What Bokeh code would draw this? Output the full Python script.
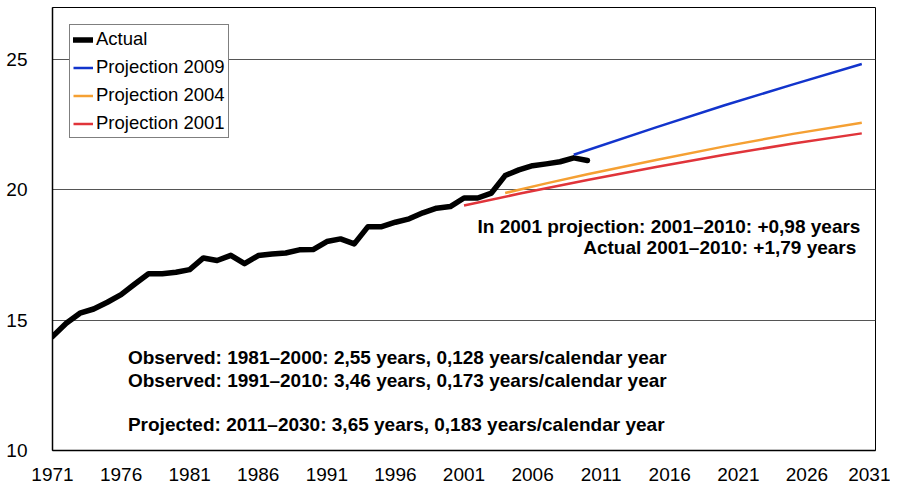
from bokeh.plotting import figure
from bokeh.models import FixedTicker, Legend, LegendItem, Label, Range1d
from bokeh.embed import file_html
from bokeh.resources import INLINE

years_actual = list(range(1971, 2011))
actual = [14.37, 14.88, 15.27, 15.43, 15.69, 15.98, 16.39, 16.78, 16.78, 16.84,
          16.94, 17.39, 17.29, 17.49, 17.17, 17.48, 17.54, 17.58, 17.70, 17.71,
          18.02, 18.12, 17.93, 18.59, 18.59, 18.76, 18.89, 19.12, 19.30, 19.36,
          19.69, 19.69, 19.88, 20.55, 20.77, 20.93, 21.00, 21.08, 21.23, 21.13]

proj2009_years = [2009, 2015, 2020, 2025, 2030]
proj2009 = [21.35, 22.40, 23.25, 24.05, 24.83]

proj2004_years = [2004, 2007, 2010, 2015, 2020, 2025, 2030]
proj2004 = [19.88, 20.25, 20.60, 21.15, 21.67, 22.15, 22.58]

proj2001_years = [2001, 2005, 2010, 2015, 2020, 2025, 2030]
proj2001 = [19.40, 19.85, 20.38, 20.88, 21.35, 21.78, 22.17]

x_ticks = list(range(1971, 2032, 5))
y_ticks = [10, 15, 20, 25]

FONT = "Liberation Sans"

p = figure(width=890, height=484, output_backend="svg", toolbar_location=None,
           x_range=Range1d(1971, 2031), y_range=Range1d(10, 27),
           min_border_left=52, min_border_right=15, min_border_top=7,
           min_border_bottom=34)
p.outline_line_color = "black"
p.outline_line_width = 1
p.background_fill_color = "white"
p.border_fill_color = "white"

p.xgrid.visible = False
p.ygrid.ticker = FixedTicker(ticks=[15, 20, 25])
p.ygrid.grid_line_color = "#555555"
p.ygrid.grid_line_width = 1

p.xaxis.ticker = FixedTicker(ticks=x_ticks)
p.yaxis.ticker = FixedTicker(ticks=y_ticks)
for ax in (p.xaxis, p.yaxis):
    ax.axis_line_color = "black"
    ax.axis_line_width = 1.5
    ax.major_tick_in = 0
    ax.major_tick_out = 0
    ax.minor_tick_in = 0
    ax.minor_tick_out = 0
    ax.major_label_text_font = FONT
    ax.major_label_text_font_size = "19px"
    ax.major_label_text_color = "black"
p.xaxis.major_label_standoff = 17
p.yaxis.major_label_standoff = 25

r_act = p.line(years_actual, actual, line_color="black", line_width=5.5,
               line_cap="round", line_join="round")
r09 = p.line(proj2009_years, proj2009, line_color="#1234cc", line_width=2.5)
r04 = p.line(proj2004_years, proj2004, line_color="#f5a033", line_width=2.5)
r01 = p.line(proj2001_years, proj2001, line_color="#e0343a", line_width=2.5)

legend = Legend(items=[
    LegendItem(label="Actual", renderers=[r_act]),
    LegendItem(label="Projection 2009", renderers=[r09]),
    LegendItem(label="Projection 2004", renderers=[r04]),
    LegendItem(label="Projection 2001", renderers=[r01]),
], location="top_left")
legend.margin = 17
legend.padding = 3
legend.spacing = 6
legend.label_height = 21
legend.glyph_height = 21
legend.glyph_width = 20
legend.label_standoff = 3
legend.label_text_font = FONT
legend.label_text_font_size = "18.5px"
legend.label_text_color = "black"
legend.border_line_color = "black"
legend.border_line_width = 1
legend.background_fill_color = "white"
legend.background_fill_alpha = 1
p.add_layout(legend)

def note(x, y, text, align="left"):
    p.add_layout(Label(x=x, y=y, text=text, text_font=FONT, text_font_style="bold",
                       text_font_size="19px", text_color="black",
                       text_align=align, text_baseline="middle"))

note(2029.9, 18.59, "In 2001 projection: 2001\u20132010: +0,98 years", "right")
note(2029.6, 17.79, "Actual 2001\u20132010: +1,79 years", "right")
note(1976.5, 13.57, "Observed: 1981\u20132000: 2,55 years, 0,128 years/calendar year")
note(1976.5, 12.69, "Observed: 1991\u20132010: 3,46 years, 0,173 years/calendar year")
note(1976.5, 11.0, "Projected: 2011\u20132030: 3,65 years, 0,183 years/calendar year")

open("out.html", "w").write(file_html(p, INLINE))
